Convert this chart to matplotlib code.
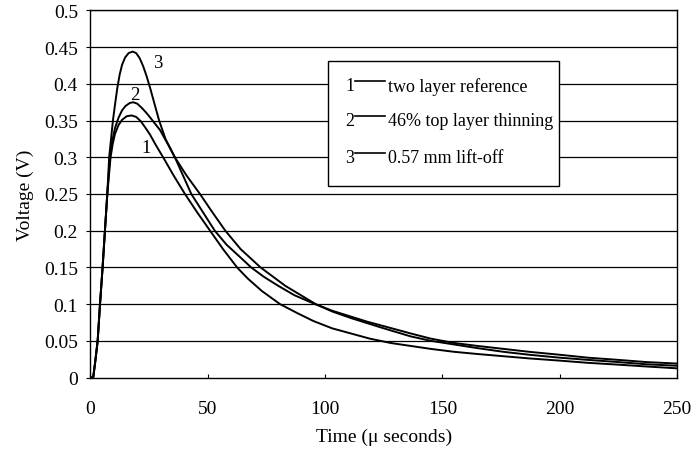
import matplotlib
matplotlib.use("Agg")
import matplotlib.pyplot as plt
from matplotlib.patches import Rectangle
from matplotlib.lines import Line2D

# ---- data ----
c1_t = [0, 1.2, 2.0, 3.1, 4.1, 5.2, 6.2, 7.2, 8.6, 9.5, 10.5, 12, 13.5, 15.5, 17.6, 19.5, 21.5,
        23.5, 25.4, 28, 31, 35.5, 40.3, 45.5, 51, 56.5, 62.5, 67, 73, 80.8, 88, 95, 103, 111, 119,
        128, 136.5, 145, 155, 165, 176, 187, 200, 212, 225, 237, 250]
c1_v = [0, 0, 0.02, 0.05, 0.1, 0.15, 0.2, 0.25, 0.3, 0.318, 0.332, 0.344, 0.351, 0.356, 0.357,
        0.355, 0.349, 0.34, 0.331, 0.316, 0.3, 0.275, 0.25, 0.225, 0.2, 0.175, 0.15, 0.135, 0.118,
        0.1, 0.088, 0.077, 0.067, 0.06, 0.053, 0.047, 0.043, 0.039, 0.035, 0.032, 0.029, 0.026,
        0.023, 0.02, 0.0175, 0.015, 0.0125]

c2_t = [0, 1.2, 2.0, 3.1, 4.1, 5.2, 6.2, 7.2, 8.3, 9.3, 10.5, 12, 13.5, 15, 16.8, 18.3, 20, 22,
        24, 26.5, 29.7, 33, 36, 41, 46.7, 52, 57.5, 64, 72.5, 83, 96, 103, 111, 118, 125, 136.5,
        145, 155, 165, 176, 187, 200, 212, 225, 237, 250]
c2_v = [0, 0, 0.02, 0.05, 0.1, 0.15, 0.2, 0.25, 0.3, 0.322, 0.34, 0.354, 0.364, 0.37, 0.374,
        0.375, 0.373, 0.367, 0.36, 0.35, 0.337, 0.318, 0.3, 0.275, 0.25, 0.225, 0.2, 0.175, 0.15,
        0.125, 0.1, 0.09, 0.081, 0.074, 0.067, 0.056, 0.05, 0.045, 0.04, 0.035, 0.031, 0.027,
        0.024, 0.021, 0.018, 0.016]

c3_t = [0, 1.2, 2.0, 3.1, 4.1, 5.2, 6.2, 7.2, 8.0, 8.8, 9.6, 10.5, 11.5, 12.5, 13.5, 14.8, 16.3,
        18, 19.5, 21, 22.5, 24, 25.5, 27.3, 29.3, 32, 36, 39.5, 43, 48, 53, 58, 63.8, 68.5, 74,
        80, 87, 95, 103, 111, 118, 125, 136.5, 145, 155, 165, 176, 187, 200, 212, 225, 237, 250]
c3_v = [0, 0, 0.02, 0.05, 0.1, 0.15, 0.2, 0.25, 0.3, 0.325, 0.35, 0.372, 0.395, 0.413, 0.426,
        0.436, 0.442, 0.444, 0.442, 0.435, 0.424, 0.41, 0.394, 0.373, 0.35, 0.325, 0.3, 0.275,
        0.25, 0.225, 0.2, 0.181, 0.164, 0.15, 0.137, 0.125, 0.112, 0.101, 0.091, 0.083, 0.076,
        0.07, 0.06, 0.053, 0.047, 0.043, 0.039, 0.035, 0.031, 0.027, 0.024, 0.021, 0.019]

curve_ids = ["1", "2", "3"]
legend_labels = ["two layer reference", "46% top layer thinning", "0.57 mm lift-off"]
label_pos_t = [23.7, 19.0, 28.9]
label_pos_v = [0.313, 0.386, 0.429]

x_ticks = [0, 50, 100, 150, 200, 250]
y_ticks = [0, 0.05, 0.1, 0.15, 0.2, 0.25, 0.3, 0.35, 0.4, 0.45, 0.5]
y_tick_labels = ["0", "0.05", "0.1", "0.15", "0.2", "0.25", "0.3", "0.35", "0.4", "0.45", "0.5"]

# ---- figure ----
plt.rcParams['font.family'] = ['Liberation Serif', 'DejaVu Serif']
fig = plt.figure(figsize=(6.98, 4.52), dpi=100)
ax = fig.add_axes([0.1295, 0.1626, 0.8405, 0.812])

for yv in y_ticks[1:]:
    ax.axhline(yv, color='black', lw=0.9, zorder=1)

for t, v in ((c1_t, c1_v), (c2_t, c2_v), (c3_t, c3_v)):
    ax.plot(t, v, color='black', lw=1.4, zorder=3, solid_joinstyle='round')

for cid, tx, vy in zip(curve_ids, label_pos_t, label_pos_v):
    ax.text(tx, vy, cid, fontsize=13.5, ha='center', va='center', zorder=4)

ax.set_xlim(0, 250)
ax.set_ylim(0, 0.5)
ax.set_xticks(x_ticks)
ax.set_xticklabels([str(x) for x in x_ticks])
ax.set_yticks(y_ticks)
ax.set_yticklabels(y_tick_labels)
ax.tick_params(axis='x', direction='in', length=3, width=0.8, pad=16, labelsize=14)
ax.tick_params(axis='y', direction='out', length=3, width=0.8, pad=6, labelsize=14)
for s in ax.spines.values():
    s.set_color('black')
    s.set_linewidth(1.0)

ax.set_xlabel("Time (\u03bc seconds)", fontsize=14, labelpad=8)
ax.set_ylabel("Voltage (V)", fontsize=14, labelpad=7)

# ---- legend box (manual, axes fraction) ----
box = Rectangle((0.405, 0.522), 0.394, 0.340, transform=ax.transAxes,
                facecolor='white', edgecolor='black', lw=1.0, zorder=5)
ax.add_patch(box)
rows_y = [0.795, 0.700, 0.600]
for cid, lab, ry in zip(curve_ids, legend_labels, rows_y):
    ax.text(0.4425, ry, cid, transform=ax.transAxes, fontsize=13, ha='center', va='center', zorder=6)
    ax.add_line(Line2D([0.451, 0.502], [ry + 0.012, ry + 0.012], transform=ax.transAxes,
                       color='black', lw=1.2, zorder=6))
    ax.text(0.507, ry, lab, transform=ax.transAxes, fontsize=13, ha='left', va='center', zorder=6)

fig.savefig("out.png", dpi=100)
